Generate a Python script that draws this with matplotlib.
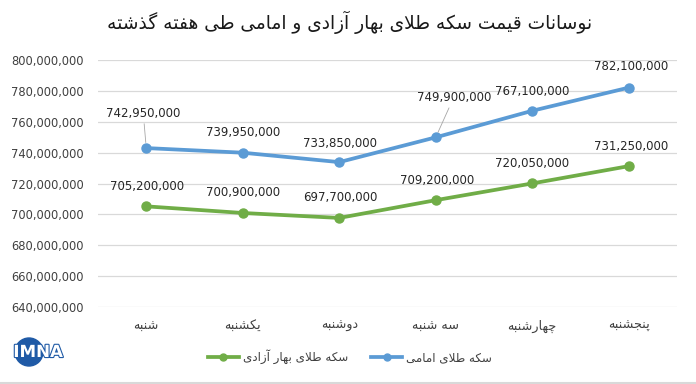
import matplotlib
matplotlib.use("Agg")
import matplotlib.pyplot as plt
from matplotlib.patches import Circle
from matplotlib.lines import Line2D
import matplotlib.patheffects as pe

# ---------------- data ----------------
categories = ["شنبه", "یکشنبه", "دوشنبه", "سه شنبه", "چهارشنبه", "پنجشنبه"]
emami = [742950000, 739950000, 733850000, 749900000, 767100000, 782100000]
bahar = [705200000, 700900000, 697700000, 709200000, 720050000, 731250000]
series_names = ["سکه طلای امامی", "سکه طلای بهار آزادی"]
title_text = "نوسانات قیمت سکه طلای بهار آزادی و امامی طی هفته گذشته"
y_ticks = [640000000, 660000000, 680000000, 700000000, 720000000,
           740000000, 760000000, 780000000, 800000000]

# ---------------- simple Arabic/Persian shaping ----------------
DUAL = {
    'ب': (0xFE8F, 0xFE90, 0xFE91, 0xFE92), 'پ': (0xFB56, 0xFB57, 0xFB58, 0xFB59),
    'ت': (0xFE95, 0xFE96, 0xFE97, 0xFE98), 'ث': (0xFE99, 0xFE9A, 0xFE9B, 0xFE9C),
    'ج': (0xFE9D, 0xFE9E, 0xFE9F, 0xFEA0), 'چ': (0xFB7A, 0xFB7B, 0xFB7C, 0xFB7D),
    'ح': (0xFEA1, 0xFEA2, 0xFEA3, 0xFEA4), 'خ': (0xFEA5, 0xFEA6, 0xFEA7, 0xFEA8),
    'س': (0xFEB1, 0xFEB2, 0xFEB3, 0xFEB4), 'ش': (0xFEB5, 0xFEB6, 0xFEB7, 0xFEB8),
    'ص': (0xFEB9, 0xFEBA, 0xFEBB, 0xFEBC), 'ض': (0xFEBD, 0xFEBE, 0xFEBF, 0xFEC0),
    'ط': (0xFEC1, 0xFEC2, 0xFEC3, 0xFEC4), 'ظ': (0xFEC5, 0xFEC6, 0xFEC7, 0xFEC8),
    'ع': (0xFEC9, 0xFECA, 0xFECB, 0xFECC), 'غ': (0xFECD, 0xFECE, 0xFECF, 0xFED0),
    'ف': (0xFED1, 0xFED2, 0xFED3, 0xFED4), 'ق': (0xFED5, 0xFED6, 0xFED7, 0xFED8),
    'ک': (0xFB8E, 0xFB8F, 0xFB90, 0xFB91), 'گ': (0xFB92, 0xFB93, 0xFB94, 0xFB95),
    'ل': (0xFEDD, 0xFEDE, 0xFEDF, 0xFEE0), 'م': (0xFEE1, 0xFEE2, 0xFEE3, 0xFEE4),
    'ن': (0xFEE5, 0xFEE6, 0xFEE7, 0xFEE8), 'ه': (0xFEE9, 0xFEEA, 0xFEEB, 0xFEEC),
    'ی': (0xFBFC, 0xFBFD, 0xFBFE, 0xFBFF),
}
RIGHT = {
    'ا': (0xFE8D, 0xFE8E), 'آ': (0xFE81, 0xFE82), 'د': (0xFEA9, 0xFEAA),
    'ذ': (0xFEAB, 0xFEAC), 'ر': (0xFEAD, 0xFEAE), 'ز': (0xFEAF, 0xFEB0),
    'ژ': (0xFB8A, 0xFB8B), 'و': (0xFEED, 0xFEEE),
    'LA': (0xFEFB, 0xFEFC), 'LAA': (0xFEF5, 0xFEF6),
}


def fa(s):
    toks = []
    i = 0
    while i < len(s):
        c = s[i]
        if c == 'ل' and i + 1 < len(s) and s[i + 1] in ('ا', 'آ'):
            toks.append('LA' if s[i + 1] == 'ا' else 'LAA')
            i += 2
        else:
            toks.append(c)
            i += 1
    out = []
    for k, t in enumerate(toks):
        prev = toks[k - 1] if k > 0 else None
        nxt = toks[k + 1] if k + 1 < len(toks) else None
        pj = prev in DUAL and (t in DUAL or t in RIGHT)
        nj = t in DUAL and nxt is not None and (nxt in DUAL or nxt in RIGHT)
        if t in DUAL:
            iso, fin, ini, med = DUAL[t]
            cp = med if (pj and nj) else fin if pj else ini if nj else iso
            out.append(chr(cp))
        elif t in RIGHT:
            iso, fin = RIGHT[t]
            out.append(chr(fin if pj else iso))
        else:
            out.append(t)
    return "".join(out)[::-1]


plt.rcParams['font.family'] = ['DejaVu Sans']

W, H = 696, 384
fig = plt.figure(figsize=(W / 100, H / 100), dpi=100)
fig.patch.set_facecolor('white')

ax = fig.add_axes([98 / W, 1 - 307 / H, (677 - 98) / W, (307 - 60) / H])
ax.set_facecolor('white')

blue = '#5B9BD5'
green = '#70AD47'
x = list(range(len(categories)))

ax.plot(x, emami, color=blue, lw=2.7, marker='o', ms=6.5, solid_capstyle='round',
        zorder=3)
ax.plot(x, bahar, color=green, lw=2.7, marker='o', ms=6.5, solid_capstyle='round',
        zorder=3)

ax.set_xlim(-0.5, len(categories) - 0.5)
ax.set_ylim(640000000, 800000000)
ax.set_yticks(y_ticks)
ax.set_yticklabels([f"{v:,}" for v in y_ticks], fontsize=8.3, color='#404040')
ax.set_xticks(x)
ax.set_xticklabels([fa(c) for c in categories], fontsize=9.2, color='#404040')
ax.tick_params(axis='both', length=0)
ax.tick_params(axis='y', pad=10)
ax.tick_params(axis='x', pad=9)
for s in ax.spines.values():
    s.set_visible(False)
ax.grid(axis='y', color='#d9d9d9', lw=0.9)
ax.set_axisbelow(True)

# data labels (offsets in pixels)
emami_off = [(-3, 35), (0, 20), (1, 19), (18, 40), (0, 19), (2, 21)]
bahar_off = [(1, 20), (0, 20), (1, 20), (1, 20), (0, 20), (2, 20)]
for vals, offs in ((emami, emami_off), (bahar, bahar_off)):
    for xi, v, (dx, dy) in zip(x, vals, offs):
        lead = dy > 30
        ax.annotate(f"{v:,}", (xi, v), xytext=(dx, dy), textcoords='offset pixels',
                    ha='center', va='center', fontsize=8.5, color='#262626',
                    arrowprops=dict(arrowstyle='-', color='#a6a6a6', lw=0.6,
                                    shrinkA=1, shrinkB=4) if lead else None,
                    zorder=4)

# title
fig.text(350 / W, 1 - 22 / H, fa(title_text), ha='center', va='center',
         fontsize=13.4, color='#1a1a1a')

# legend
handles = [Line2D([], [], color=green, lw=2.7, marker='o', ms=5),
           Line2D([], [], color=blue, lw=2.7, marker='o', ms=5)]
labels = [fa(series_names[1]), fa(series_names[0])]
fig.legend(handles, labels, loc='center', bbox_to_anchor=(350 / W, 1 - 357 / H),
           ncol=2, frameon=False, fontsize=8.6, handlelength=2.6, handletextpad=0.35,
           columnspacing=1.9, labelcolor='#404040')

# bottom border line
fig.add_artist(Line2D([0, 1], [1 - 383 / H, 1 - 383 / H], color='#d9d9d9', lw=1.5,
                      transform=fig.transFigure))

# logo
logo_ax = fig.add_axes([0, 0, 1, 1], facecolor='none')
logo_ax.set_xlim(0, W)
logo_ax.set_ylim(H, 0)
logo_ax.axis('off')
logo_ax.add_patch(Circle((29, 352), 14, color='#1f5aa6', zorder=1))
logo_ax.text(38, 352, "IMNA", ha='center', va='center', fontsize=12,
             fontweight='bold', color='white', zorder=2,
             path_effects=[pe.withStroke(linewidth=1.6, foreground='#1f5aa6')])

fig.savefig('out.png', dpi=100, facecolor='white')
